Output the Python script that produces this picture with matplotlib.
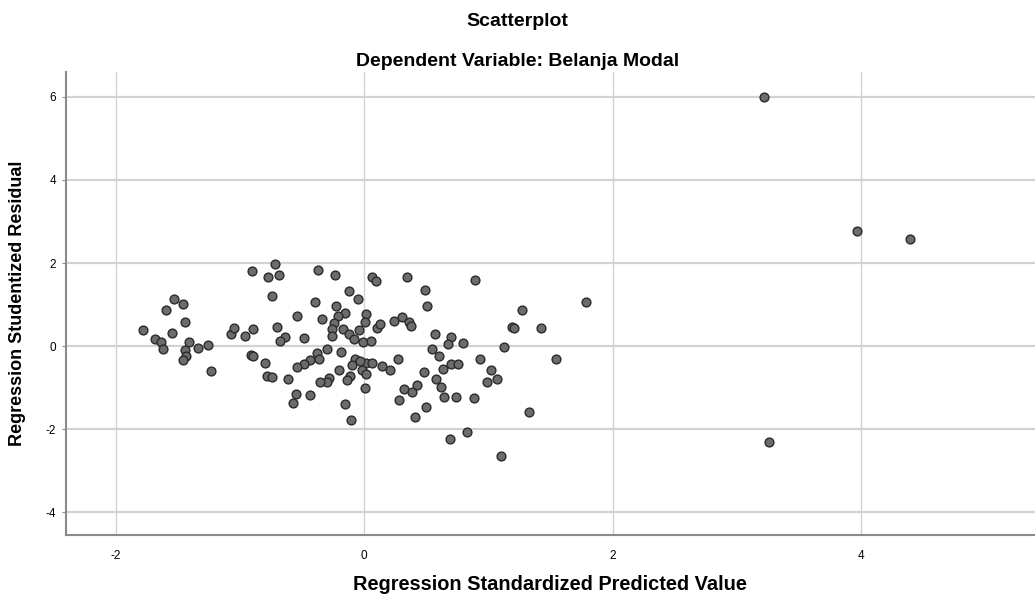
import matplotlib
matplotlib.use("Agg")
import matplotlib.pyplot as plt

# Regression Standardized Predicted Value / Studentized Residual
pred = [
    -1.780, -1.687, -1.633, -1.623, -1.549, -1.530, -1.456, -1.593, -1.442, -1.406,
    -1.444, -1.432, -1.462, -1.341, -1.255, -1.231, -1.072, -1.044, -0.957, -0.891,
    -0.905, -0.778, -0.718, -0.689, -0.744, -0.704, -0.636, -0.676, -0.913, -0.893,
    -0.796, -0.779, -0.743, -0.611, -0.547, -0.575, -0.436, -0.541, -0.485, -0.396,
    -0.368, -0.232, -0.340, -0.126, -0.051, -0.228, -0.154, -0.213, -0.239, -0.259,
    -0.256, -0.167, -0.122, -0.078, -0.040, -0.010, 0.016, 0.008, -0.300, -0.376,
    -0.360, -0.436, -0.483, -0.541, -0.187, -0.076, -0.099, 0.016, -0.016, 0.018,
    -0.200, -0.113, -0.139, -0.279, -0.302, -0.354, 0.008, -0.157, -0.107, -0.032,
    0.062, 0.098, 0.344, 0.895, 0.492, 0.503, 0.107, 0.129, 0.241, 0.306,
    0.360, 0.377, 0.056, 0.571, 0.696, 0.677, 0.795, 0.545, 0.601, 0.276,
    0.064, 0.142, 0.209, 0.484, 0.632, 0.698, 0.758, 0.579, 0.615, 0.646,
    0.739, 0.887, 0.931, 1.022, 1.066, 0.990, 0.322, 0.384, 0.426, 0.282,
    0.501, 0.406, 0.831, 0.689, 1.100, 1.273, 1.784, 1.191, 1.207, 1.424,
    1.126, 1.546, 1.330, 3.218, 3.966, 4.393, 3.258,
]
resid = [
    0.378, 0.169, 0.096, -0.080, 0.325, 1.133, 1.019, 0.860, 0.571, 0.108,
    -0.092, -0.248, -0.337, -0.036, 0.024, -0.602, 0.289, 0.446, 0.234, 0.410,
    1.802, 1.670, 1.983, 1.711, 1.205, 0.465, 0.224, 0.113, -0.217, -0.248,
    -0.417, -0.723, -0.752, -0.800, -1.157, -1.369, -1.176, 0.723, 0.193, 1.060,
    1.831, 1.711, 0.651, 1.318, 1.125, 0.964, 0.802, 0.728, 0.559, 0.410,
    0.241, 0.414, 0.294, 0.176, 0.386, 0.089, 0.778, 0.571, -0.060, -0.157,
    -0.301, -0.325, -0.434, -0.499, -0.133, -0.301, -0.453, -0.398, -0.578, -0.675,
    -0.578, -0.723, -0.807, -0.766, -0.867, -0.867, -1.000, -1.398, -1.788, -0.354,
    1.663, 1.566, 1.675, 1.602, 1.342, 0.957, 0.434, 0.530, 0.595, 0.711,
    0.578, 0.494, 0.120, 0.301, 0.224, 0.055, 0.084, -0.072, -0.229, -0.320,
    -0.398, -0.482, -0.583, -0.619, -0.542, -0.434, -0.434, -0.795, -0.988, -1.217,
    -1.217, -1.246, -0.313, -0.578, -0.790, -0.867, -1.024, -1.096, -0.947, -1.306,
    -1.463, -1.704, -2.072, -2.248, -2.639, 0.880, 1.053, 0.458, 0.446, 0.439,
    -0.024, -0.313, -1.578, 6.000, 2.771, 2.578, -2.313,
]

xticks = [-2, 0, 2, 4]
yticks = [-4, -2, 0, 2, 4, 6]

plt.rcParams['font.family'] = ['Liberation Sans', 'DejaVu Sans']
plt.rcParams['axes.unicode_minus'] = False

fig = plt.figure(figsize=(10.35, 6.04), dpi=100)
ax = fig.add_axes([66 / 1035, 1 - 535 / 604, 969 / 1035, 463 / 604])

for v in xticks:
    ax.axvline(v, color='#d2d2d2', lw=1.0, zorder=0)
for v in yticks:
    ax.axhline(v, color='#d2d2d2', lw=1.6, zorder=0)

ax.scatter(pred, resid, s=40, facecolor='#6c6c6c', edgecolor='#2a2a2a',
           linewidth=1.0, zorder=3)

ax.set_xlim(-2.40, 5.40)
ax.set_ylim(-4.55, 6.60)
ax.set_xticks(xticks)
ax.set_yticks(yticks)
ax.tick_params(axis='x', length=0, labelsize=8.5, pad=11)
ax.tick_params(axis='y', length=3, labelsize=8.5, pad=4, color='#888888')

for side in ['top', 'right']:
    ax.spines[side].set_visible(False)
for side in ['left', 'bottom']:
    ax.spines[side].set_color('#8a8a8a')
    ax.spines[side].set_linewidth(1.5)

fig.text(0.5, 1 - 21 / 604, 'Scatterplot', ha='center', va='center',
         fontsize=14, fontweight='bold')
fig.text(0.5, 1 - 62 / 604, 'Dependent Variable: Belanja Modal', ha='center',
         va='center', fontsize=14, fontweight='bold')
fig.text(550 / 1035, 1 - 585 / 604, 'Regression Standardized Predicted Value',
         ha='center', va='center', fontsize=14.4, fontweight='bold')
fig.text(18 / 1035, 1 - 303 / 604, 'Regression Studentized Residual',
         ha='center', va='center', rotation=90, fontsize=13, fontweight='bold')

fig.savefig('out.png', dpi=100)
